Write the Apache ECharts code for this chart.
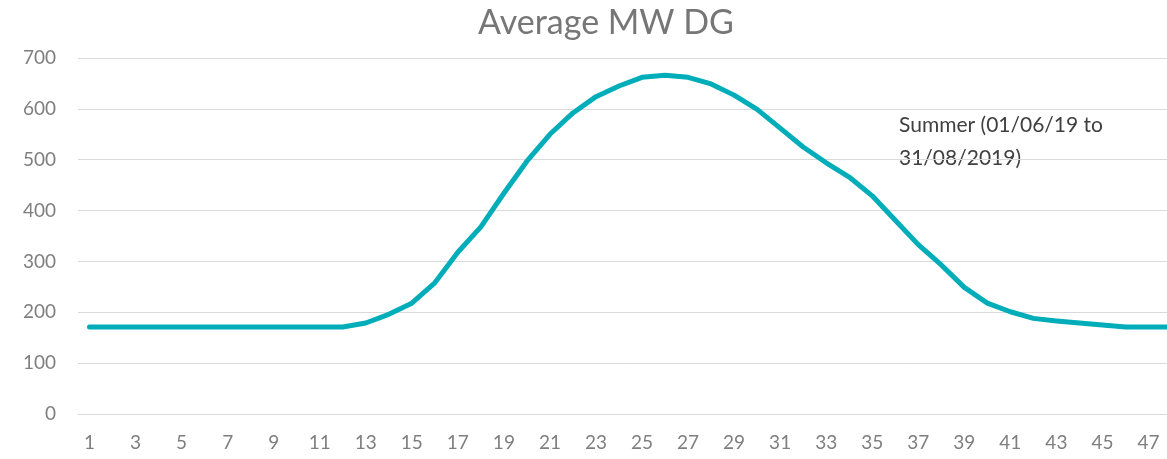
<!DOCTYPE html>
<html>
<head>
<meta charset="utf-8">
<script src="https://cdn.jsdelivr.net/npm/echarts@6/dist/echarts.min.js"></script>
<style>html,body{margin:0;padding:0;background:#fff;overflow:hidden;width:1167px;height:459px;}#c{width:1183px;height:459px;}</style>
</head>
<body>
<div id="c"></div>
<script>
var categories = [];
for (var i = 1; i <= 48; i++) categories.push(String(i));
var avgMW = [171,171,171,171,171,171,171,171,171,171,171,171,
  179,196,218,258,318,368,434,497,550,592,624,645,
  662,666,662,649,627,599,562,525,494,466,429,381,
  333,293,249,218,201,188,183,179,175,171,171,171];
var yTicks = { min: 0, max: 700, interval: 100 };
var titleText = 'Average MW DG';
var noteLines = ['Summer (01/06/19 to', '31/08/2019)'];

var chart = echarts.init(document.getElementById('c'));
chart.setOption({
  animation: false,
  backgroundColor: '#ffffff',
  grid: { left: 78, right: 0, top: 58, bottom: 45, containLabel: false },
  xAxis: {
    type: 'category', data: categories, boundaryGap: true,
    axisLine: { show: true, lineStyle: { color: '#d9d9d9', width: 1 } },
    axisTick: { show: false },
    axisLabel: { interval: 1, margin: 19, fontFamily: 'Lato', fontSize: 19, color: '#7f7f7f' },
    splitLine: { show: false }
  },
  yAxis: {
    type: 'value', min: yTicks.min, max: yTicks.max, interval: yTicks.interval,
    axisLine: { show: false }, axisTick: { show: false },
    axisLabel: { margin: 22, fontFamily: 'Lato', fontSize: 19, color: '#7f7f7f' },
    splitLine: { lineStyle: { color: '#d9d9d9', width: 1 } }
  },
  series: [{
    type: 'line', data: avgMW, symbol: 'none', smooth: false,
    lineStyle: { color: '#00adb9', width: 5, cap: 'round', join: 'round' }
  }],
  graphic: [{
    type: 'text', x: 606, y: 6,
    style: {
      text: titleText, fontFamily: 'Lato', fontSize: 34, fill: '#767676',
      textAlign: 'center', textVerticalAlign: 'top'
    }
  }, {
    type: 'text', left: 899, top: 109,
    style: {
      text: noteLines.join('\n'), fontFamily: 'Lato', fontSize: 21, lineHeight: 33,
      fill: '#404040'
    }
  }]
});
</script>
</body>
</html>
